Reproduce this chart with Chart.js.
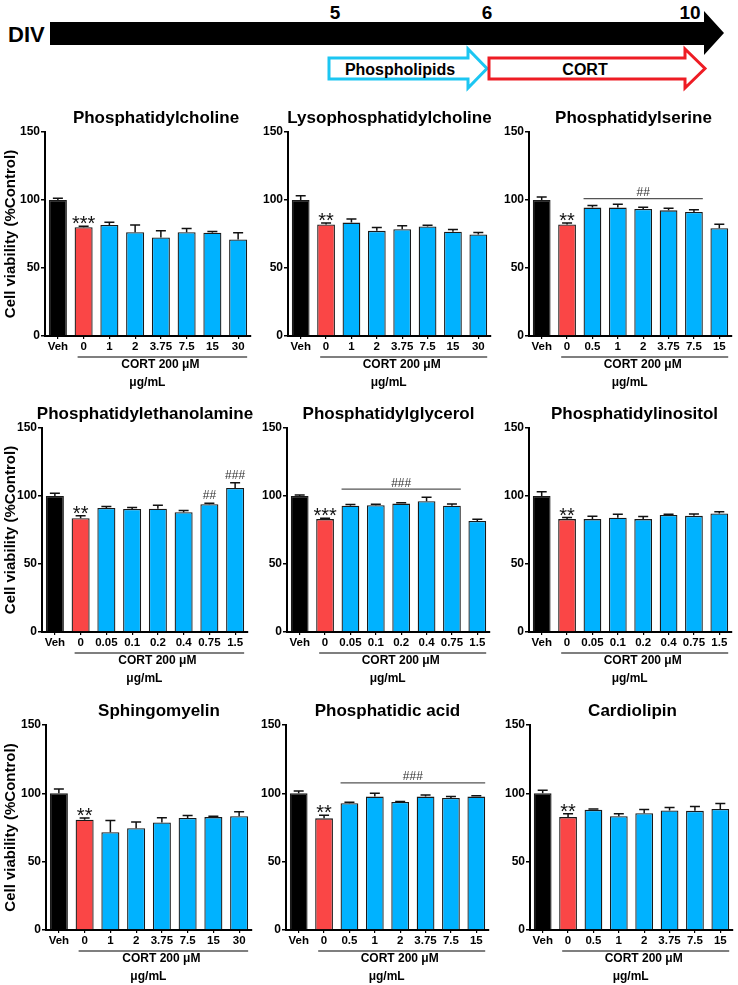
<!DOCTYPE html>
<html>
<head>
<meta charset="utf-8">
<script src="https://cdn.jsdelivr.net/npm/chart.js"></script>
<style>
  html, body { margin: 0; padding: 0; background: #fff; }
  body { width: 738px; height: 985px; position: relative; overflow: hidden; font-family: 'Liberation Sans', Arial, sans-serif; }
  canvas { position: absolute; }
  svg { position: absolute; left: 0; top: 0; }
</style>
</head>
<body>
<svg width="738" height="100" viewBox="0 0 738 100">
  <polygon points="50,22 704,22 704,11 724,33 704,55 704,45 50,45" fill="#000"/>
  <text x="8" y="42" font-family="Liberation Sans, Arial" font-weight="bold" font-size="22">DIV</text>
  <text x="335" y="19" text-anchor="middle" font-family="Liberation Sans, Arial" font-weight="bold" font-size="19">5</text>
  <text x="487" y="19" text-anchor="middle" font-family="Liberation Sans, Arial" font-weight="bold" font-size="19">6</text>
  <text x="690" y="19" text-anchor="middle" font-family="Liberation Sans, Arial" font-weight="bold" font-size="19">10</text>
  <polygon points="329,58 468,58 468,49 487,68.5 468,88 468,79 329,79" fill="#fff" stroke="#1CC6F2" stroke-width="3"/>
  <polygon points="489,58 685,58 685,49 705,68.5 685,88 685,79 489,79" fill="#fff" stroke="#EE1C24" stroke-width="3"/>
  <text x="400" y="74.5" text-anchor="middle" font-family="Liberation Sans, Arial" font-weight="bold" font-size="16">Phospholipids</text>
  <text x="585" y="74.5" text-anchor="middle" font-family="Liberation Sans, Arial" font-weight="bold" font-size="16">CORT</text>
</svg>
<script>
// ---- categories (tick labels) ----
const labelsA = ['Veh', '0', '1', '2', '3.75', '7.5', '15', '30'];
const labelsB = ['Veh', '0', '0.5', '1', '2', '3.75', '7.5', '15'];
const labelsC = ['Veh', '0', '0.05', '0.1', '0.2', '0.4', '0.75', '1.5'];
const yTicks = [0, 50, 100, 150];

// ---- series values (mean, SEM) ----
const pcMean  = [100, 80, 81.7, 76.3, 72.4, 76.3, 76, 71];
const pcSem   = [1.3, 0.7, 2, 5.4, 4.9, 2.7, 0.8, 4.9];
const lpcMean = [100, 82, 83.4, 77.3, 78.5, 80.5, 76.6, 74.6];
const lpcSem  = [3.2, 1, 2.6, 2.5, 2.5, 1, 1.7, 1.5];
const psMean  = [100, 82, 94.4, 94.4, 93.4, 92.4, 91.2, 79.3];
const psSem   = [2.2, 1, 1.5, 2.4, 1.2, 1.5, 1.7, 2.9];
const peMean  = [100, 83.7, 91.2, 90.5, 90.7, 88, 93.9, 105.9];
const peSem   = [2, 1.7, 1, 1, 2.5, 1.3, 0.7, 3.9];
const pgMean  = [100, 83, 92.9, 93.2, 94.4, 96.1, 92.9, 81.7];
const pgSem   = [0.7, 0.7, 0.8, 0.7, 0.7, 2.9, 1.2, 1.2];
const piMean  = [100, 83, 83, 84, 83, 86.1, 85.4, 87.1];
const piSem   = [3.2, 1.1, 2.1, 2.6, 1.9, 0.5, 1.4, 1.4];
const smMean  = [100, 80.7, 71.5, 74.4, 78.7, 81.9, 82.6, 83.3];
const smSem   = [3.1, 1.2, 8.7, 4.6, 3.4, 1.9, 0.7, 3.2];
const paMean  = [100, 81.7, 92.7, 97.6, 93.7, 97.6, 96.6, 97.6];
const paSem   = [1.7, 2.2, 0.7, 2.4, 0.4, 1.2, 1, 0.7];
const clMean  = [100, 82.6, 87.9, 83.3, 85.5, 87.4, 87.2, 88.6];
const clSem   = [2.2, 2.4, 0.7, 1.7, 2.7, 2.2, 3.1, 3.9];

// ---- significance marks: [barIndex, text] ----
const pcSig  = [[1, '***']];
const lpcSig = [[1, '**']];
const psSig  = [[1, '**']];
const peSig  = [[1, '**'], [6, '##'], [7, '###']];
const pgSig  = [[1, '***']];
const piSig  = [[1, '**']];
const smSig  = [[1, '**']];
const paSig  = [[1, '**']];
const clSig  = [[1, '**']];

// ---- brackets: [fromIndex, toIndex, value, text] ----
const psBracket = [2, 6, 101, '##'];
const pgBracket = [2, 6, 105, '###'];
const paBracket = [2, 7, 107.7, '###'];

const FONT = "'Liberation Sans', Arial, sans-serif";
const BLUE = '#00B2FF', RED = '#FA4646', BLACK = '#000000';

const annot = {
  id: 'annot',
  afterDraw(chart, args, o) {
    const ctx = chart.ctx, y = chart.scales.y, ca = chart.chartArea;
    const meta = chart.getDatasetMeta(0);
    const bars = meta.data;
    ctx.save();
    // error bars
    ctx.strokeStyle = '#111';
    ctx.lineWidth = 1.5;
    o.sem.forEach((s, i) => {
      const b = bars[i];
      const y0 = y.getPixelForValue(o.mean[i]);
      const y1 = y.getPixelForValue(o.mean[i] + s);
      ctx.beginPath();
      ctx.moveTo(b.x, y0); ctx.lineTo(b.x, y1);
      ctx.moveTo(b.x - 5, y1); ctx.lineTo(b.x + 5, y1);
      ctx.stroke();
    });
    // title
    ctx.fillStyle = '#000';
    ctx.font = 'bold 17px ' + FONT;
    ctx.textAlign = 'center';
    ctx.textBaseline = 'middle';
    ctx.fillText(o.title, (ca.left + ca.right) / 2 + o.titleDx, ca.top - 14);
    // significance
    o.sig.forEach(([i, t]) => {
      const b = bars[i];
      const yt = y.getPixelForValue(o.mean[i] + o.sem[i]);
      if (t[0] === '*') {
        ctx.font = '20px ' + FONT;
        ctx.textBaseline = 'alphabetic';
        ctx.fillStyle = '#111';
        ctx.fillText(t, b.x, yt + 4);
      } else {
        ctx.font = '12px ' + FONT;
        ctx.textBaseline = 'alphabetic';
        ctx.fillStyle = '#333';
        ctx.fillText(t, b.x, yt - 4);
      }
    });
    // bracket
    if (o.bracket) {
      const [f, tIdx, v, txt] = o.bracket;
      const x1 = bars[f].x - bars[f].width / 2;
      const x2 = bars[tIdx].x + bars[tIdx].width / 2;
      const yp = y.getPixelForValue(v);
      ctx.strokeStyle = '#555';
      ctx.lineWidth = 1.2;
      ctx.beginPath(); ctx.moveTo(x1, yp); ctx.lineTo(x2, yp); ctx.stroke();
      ctx.font = '12px ' + FONT;
      ctx.fillStyle = '#333';
      ctx.textBaseline = 'alphabetic';
      ctx.fillText(txt, (x1 + x2) / 2, yp - 2.5);
    }
    // underline + CORT text
    const n = bars.length - 1;
    const ux1 = bars[1].x - bars[1].width / 2 + 3;
    const ux2 = bars[n].x + bars[n].width / 2;
    const uy = ca.bottom + 21;
    ctx.strokeStyle = '#555';
    ctx.lineWidth = 1.6;
    ctx.beginPath(); ctx.moveTo(ux1, uy); ctx.lineTo(ux2, uy); ctx.stroke();
    const uc = (ux1 + ux2) / 2;
    ctx.fillStyle = '#000';
    ctx.font = 'bold 12px ' + FONT;
    ctx.textBaseline = 'middle';
    ctx.fillText('CORT 200 \u03BCM', uc - 2, ca.bottom + 29);
    ctx.fillText('\u03BCg/mL', uc - 15, ca.bottom + 47);
    // y label
    if (o.ylabel) {
      ctx.save();
      ctx.translate(11, (ca.top + ca.bottom) / 2);
      ctx.rotate(-Math.PI / 2);
      ctx.font = 'bold 15px ' + FONT;
      ctx.textBaseline = 'middle';
      ctx.fillText(o.ylabel, 0, 0);
      ctx.restore();
    }
    ctx.restore();
  }
};

const colLeft = [0, 250, 490];
const rowTop = [132, 428, 725];
const plotH = [204, 204, 205];
const axisX = [[45, 288, 529], [42, 287, 529], [46, 286, 530]];
const plotW = [206, 203, 203];

const panels = [
  { r: 0, c: 0, dx: 8, title: 'Phosphatidylcholine', labels: labelsA, mean: pcMean, sem: pcSem, sig: pcSig },
  { r: 0, c: 1, dx: 0, title: 'Lysophosphatidylcholine', labels: labelsA, mean: lpcMean, sem: lpcSem, sig: lpcSig },
  { r: 0, c: 2, dx: 3, title: 'Phosphatidylserine', labels: labelsB, mean: psMean, sem: psSem, sig: psSig, bracket: psBracket },
  { r: 1, c: 0, dx: 0, title: 'Phosphatidylethanolamine', labels: labelsC, mean: peMean, sem: peSem, sig: peSig },
  { r: 1, c: 1, dx: 0, title: 'Phosphatidylglycerol', labels: labelsC, mean: pgMean, sem: pgSem, sig: pgSig, bracket: pgBracket },
  { r: 1, c: 2, dx: 4, title: 'Phosphatidylinositol', labels: labelsC, mean: piMean, sem: piSem, sig: piSig },
  { r: 2, c: 0, dx: 10, title: 'Sphingomyelin', labels: labelsA, mean: smMean, sem: smSem, sig: smSig },
  { r: 2, c: 1, dx: 0, title: 'Phosphatidic acid', labels: labelsB, mean: paMean, sem: paSem, sig: paSig, bracket: paBracket },
  { r: 2, c: 2, dx: 1, title: 'Cardiolipin', labels: labelsB, mean: clMean, sem: clSem, sig: clSig }
];

const PADTOP = 32, XH = 58, PADR = 16;

panels.forEach(p => {
  const yW = axisX[p.r][p.c] - colLeft[p.c];
  const W = yW + plotW[p.c] + PADR;
  const H = PADTOP + plotH[p.r] + XH;
  const cv = document.createElement('canvas');
  cv.width = W; cv.height = H;
  cv.style.left = colLeft[p.c] + 'px';
  cv.style.top = (rowTop[p.r] - PADTOP) + 'px';
  cv.style.width = W + 'px'; cv.style.height = H + 'px';
  document.body.appendChild(cv);
  const colors = p.labels.map((_, i) => i === 0 ? BLACK : (i === 1 ? RED : BLUE));
  new Chart(cv, {
    type: 'bar',
    data: {
      labels: p.labels,
      datasets: [{
        data: p.mean,
        backgroundColor: colors,
        borderColor: '#1a1a1a',
        borderWidth: 1.3,
        barPercentage: 0.7,
        categoryPercentage: 1.0
      }]
    },
    options: {
      responsive: false,
      animation: false,
      devicePixelRatio: 1,
      layout: { padding: { top: PADTOP, right: PADR, left: 0, bottom: 0 } },
      plugins: {
        legend: { display: false },
        tooltip: { enabled: false },
        annot: {
          title: p.title, titleDx: p.dx, mean: p.mean, sem: p.sem, sig: p.sig, bracket: p.bracket,
          ylabel: p.c === 0 ? 'Cell viability (%Control)' : null
        }
      },
      scales: {
        x: {
          offset: true,
          afterFit: s => { s.height = XH; },
          grid: { drawOnChartArea: false, drawTicks: true, tickLength: 3, offset: false, color: '#000', lineWidth: 1.2 },
          border: { display: true, color: '#000', width: 2 },
          ticks: { color: '#000', font: { family: FONT, weight: 'bold', size: 11.5 }, padding: 1, maxRotation: 0, autoSkip: false }
        },
        y: {
          min: 0, max: 150,
          afterFit: s => { s.width = yW; },
          afterBuildTicks: s => { s.ticks = yTicks.map(v => ({ value: v })); },
          grid: { drawOnChartArea: false, drawTicks: true, tickLength: 4, color: '#000', lineWidth: 1.5 },
          border: { display: true, color: '#000', width: 2 },
          ticks: { color: '#000', font: { family: FONT, weight: 'bold', size: 12 }, padding: 1 }
        }
      }
    },
    plugins: [annot]
  });
});
</script>
</body>
</html>
